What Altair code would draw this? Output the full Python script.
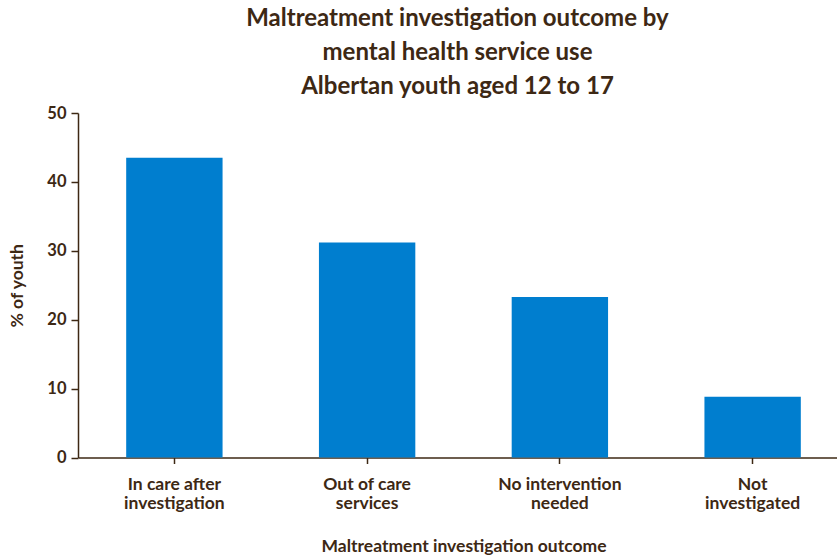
import altair as alt
import pandas as pd

categories = ["In care after|investigation", "Out of care|services", "No intervention|needed", "Not|investigated"]
values = [43.5, 31.2, 23.3, 8.8]

df = pd.DataFrame({"outcome": categories, "pct": values})

TXT = "#3D2814"
FONT = "Lato"

chart = alt.Chart(df).mark_bar(color="#007ECF").encode(
    x=alt.X("outcome:N", sort=categories,
            scale=alt.Scale(paddingInner=0.5, paddingOuter=0.25, range=[0, 771]),
            axis=alt.Axis(title="Maltreatment investigation outcome", labelAngle=0,
                          labelExpr="split(datum.value, '|')",
                          labelLineHeight=19, labelPadding=12, tickSize=6,
                          titlePadding=25)),
    y=alt.Y("pct:Q", scale=alt.Scale(domain=[0, 50]),
            axis=alt.Axis(title="% of youth", values=[0, 10, 20, 30, 40, 50],
                          grid=False, tickSize=7, labelPadding=5, titlePadding=20)),
).properties(
    width=759,
    height=344.5,
    title=alt.TitleParams(
        text=["Maltreatment investigation outcome by", "mental health service use",
              "Albertan youth aged 12 to 17"],
        anchor="middle", fontSize=24, font=FONT, fontWeight="bold", color=TXT,
        lineHeight=34, offset=6),
    autosize=alt.AutoSizeParams(type="none"),
    padding={"left": 78, "top": 113, "right": 0, "bottom": 98},
).configure_view(stroke=None).configure_axis(
    domainColor=TXT, tickColor=TXT, domainWidth=1.5, tickWidth=1.5,
    labelColor=TXT, titleColor=TXT, labelFont=FONT, titleFont=FONT,
    labelFontSize=17.5, titleFontSize=17.5, labelFontWeight="bold", titleFontWeight="bold",
).configure_axisY(labelFontSize=16.5, titleFontSize=17.5)

chart.save("out.html", embed_options={"renderer": "svg", "actions": False})
